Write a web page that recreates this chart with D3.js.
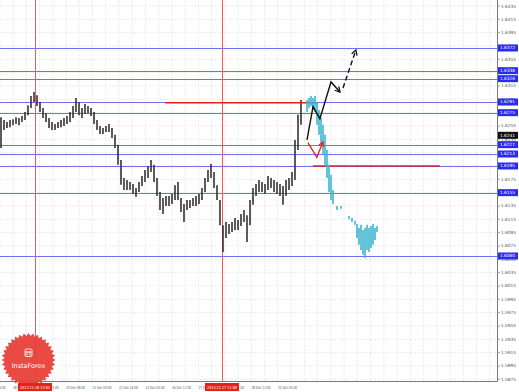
<!DOCTYPE html>
<html><head><meta charset="utf-8">
<script src="https://cdn.jsdelivr.net/npm/d3@7"></script>
<style>body{margin:0;background:#fff}svg{display:block}</style>
</head><body><svg id="c" width="519" height="392"></svg>
<script>
// ---- data ----
const barHigh = [1.6268,1.6264,1.6261,1.6264,1.6265,1.6268,1.6267,1.6270,1.6276,1.6286,
1.6300,1.6306,1.6301,1.6291,1.6282,1.6274,1.6267,1.6261,1.6258,1.6261,
1.6264,1.6267,1.6270,1.6276,1.6285,1.6297,1.6291,1.6282,1.6288,1.6285,
1.6282,1.6276,1.6264,1.6255,1.6252,1.6255,1.6258,1.6252,1.6242,1.6227,
1.6204,1.6177,1.6174,1.6171,1.6168,1.6162,1.6171,1.6180,1.6189,1.6195,
1.6204,1.6197,1.6177,1.6156,1.6147,1.6150,1.6150,1.6153,1.6166,1.6171,
1.6147,1.6138,1.6144,1.6144,1.6147,1.6150,1.6153,1.6162,1.6177,1.6189,
1.6198,1.6186,1.6166,1.6144,1.6106,1.6111,1.6108,1.6111,1.6117,1.6114,
1.6123,1.6129,1.6121,1.6144,1.6162,1.6168,1.6174,1.6171,1.6168,1.6180,
1.6177,1.6174,1.6171,1.6168,1.6165,1.6174,1.6177,1.6186,1.6234,1.6272,1.6294];
const barLow = [1.6222,1.6249,1.6252,1.6253,1.6256,1.6258,1.6256,1.6261,1.6264,1.6271,
1.6282,1.6291,1.6285,1.6276,1.6267,1.6261,1.6252,1.6249,1.6249,1.6252,
1.6253,1.6255,1.6258,1.6261,1.6267,1.6276,1.6271,1.6267,1.6273,1.6274,
1.6270,1.6258,1.6249,1.6243,1.6243,1.6246,1.6246,1.6237,1.6222,1.6197,
1.6167,1.6159,1.6159,1.6159,1.6153,1.6149,1.6156,1.6165,1.6171,1.6177,
1.6186,1.6171,1.6150,1.6129,1.6123,1.6135,1.6135,1.6138,1.6144,1.6144,
1.6126,1.6111,1.6129,1.6132,1.6135,1.6135,1.6138,1.6144,1.6156,1.6171,
1.6177,1.6162,1.6144,1.6106,1.6066,1.6087,1.6093,1.6096,1.6099,1.6099,
1.6105,1.6111,1.6081,1.6106,1.6137,1.6150,1.6156,1.6156,1.6153,1.6159,
1.6162,1.6156,1.6153,1.6150,1.6137,1.6150,1.6159,1.6165,1.6174,1.6219,1.6257];

const fcBar  = [102,102.67,103.33,104,104.67,105.33,106,106.67,107.33,108,108.67,109.33,110,110.67,112,113.33,116,117,118,118.67,119.33,120,120.67,121.33,122,122.67,123.33,124,124.67,125.33];
const fcHigh = [1.6294,1.6297,1.6300,1.6297,1.6300,1.6291,1.6279,1.6267,1.6257,1.6242,1.6219,1.6197,1.6182,1.6159,1.6135,1.6135,1.6120,1.6117,1.6113,1.6108,1.6102,1.6107,1.6099,1.6102,1.6107,1.6102,1.6105,1.6108,1.6102,1.6105];
const fcLow  = [1.6276,1.6282,1.6285,1.6279,1.6276,1.6257,1.6242,1.6227,1.6212,1.6197,1.6177,1.6156,1.6144,1.6138,1.6129,1.6131,1.6115,1.6111,1.6107,1.6087,1.6077,1.6069,1.6062,1.6057,1.6069,1.6066,1.6072,1.6077,1.6084,1.6096];

const levels = [1.6372,1.6338,1.6326,1.6291,1.6275,1.6227,1.6213,1.6195,1.6155,1.6060];
const currentPrice = 1.6241;
const redLevels = [1.6290, 1.6195];
const redFrom = [54.7, 104];
const redTo = [105.7, 146.3];
const vLineBars = [11.33, 73.67];
const vLineLabels = ["2013.12.18 13:00", "2013.12.27 11:00"];
const xTickBars = [-4.83,4,12.83,21.67,30.5,39.33,48.17,57,65.83,74.67,83.5,92.33];
const xTickLabels = ["18 Dec 04:00","18 Dec 20:00","19 Dec 14:00","20 Dec 08:00","21 Dec 00:00","21 Dec 16:00","24 Dec 00:00","26 Dec 12:00","27 Dec 05:00","27 Dec 21:00","28 Dec 13:00","31 Dec 05:00"];
const yTicks = [1.6435,1.6415,1.6395,1.6375,1.6355,1.6335,1.6315,1.6295,1.6275,1.6255,1.6235,1.6215,1.6195,1.6175,1.6155,1.6135,1.6115,1.6095,1.6075,1.6055,1.6035,1.6015,1.5995,1.5975,1.5955,1.5935,1.5915,1.5895,1.5875];
const blackPathBars = [102,104,106.3,110,113];
const blackPathPrices = [1.6234,1.6284,1.6266,1.6321,1.6306];
const blackDashBars = [114,118.3];
const blackDashPrices = [1.6312,1.6369];
const redPathBars = [102.3,105.3,107.3];
const redPathPrices = [1.6230,1.6208,1.6231];

// ---- layout ----
const W = 519, H = 392, plotR = 497, plotB = 381;
const x = d3.scaleLinear().domain([0,100]).range([1,301]);
const y = d3.scaleLinear().domain([1.6435,1.5875]).range([6,379.33]);
const svg = d3.select("#c");
const font = "'DejaVu Sans', sans-serif";

const defs = svg.append("defs");
defs.append("clipPath").attr("id","plot").append("rect").attr("x",0).attr("y",0).attr("width",plotR).attr("height",plotB);
defs.append("clipPath").attr("id","xlab").append("rect").attr("x",0).attr("y",382).attr("width",plotR).attr("height",10);
function marker(id, color){
  defs.append("marker").attr("id",id).attr("viewBox","0 0 10 10").attr("refX",8).attr("refY",5)
    .attr("markerWidth",5).attr("markerHeight",5).attr("orient","auto")
    .append("path").attr("d","M1,1 L8,5 L1,9").attr("fill","none").attr("stroke",color).attr("stroke-width",1.8);
}
marker("arrB","#111"); marker("arrR","#e0201c");

svg.append("rect").attr("width",W).attr("height",H).attr("fill","#fff");
const g = svg.append("g").attr("clip-path","url(#plot)");

// grid
g.selectAll("line.hg").data(yTicks).join("line")
  .attr("x1",0).attr("x2",plotR).attr("y1",d=>y(d)).attr("y2",d=>y(d))
  .attr("stroke","#d2d2d2").attr("stroke-width",0.7).attr("stroke-dasharray","1,1.5");
const step = (xTickBars[1]-xTickBars[0])/2;
const vGrid = d3.range(xTickBars[0], x.invert(plotR), step);
g.selectAll("line.vg").data(vGrid).join("line")
  .attr("x1",d=>x(d)).attr("x2",d=>x(d)).attr("y1",0).attr("y2",plotB)
  .attr("stroke","#d2d2d2").attr("stroke-width",0.7).attr("stroke-dasharray","1,1.5");

// blue levels
g.selectAll("line.lv").data(levels).join("line")
  .attr("x1",0).attr("x2",plotR).attr("y1",d=>Math.round(y(d))+0.5).attr("y2",d=>Math.round(y(d))+0.5)
  .attr("stroke","#6f6ff5").attr("stroke-width",1.1);

// vertical red lines
g.selectAll("line.vl").data(vLineBars).join("line")
  .attr("x1",d=>Math.round(x(d))+0.5).attr("x2",d=>Math.round(x(d))+0.5).attr("y1",0).attr("y2",plotB)
  .attr("stroke","#ec5a5a").attr("stroke-width",1);

// candles
const idx = d3.range(barHigh.length);
g.selectAll("line.bar").data(idx).join("line")
  .attr("x1",i=>x(i)).attr("x2",i=>x(i))
  .attr("y1",i=>y(barHigh[i])).attr("y2",i=>y(barLow[i]))
  .attr("stroke","#333").attr("stroke-width",1.6);

// red level segments
g.selectAll("line.rs").data(redLevels).join("line")
  .attr("x1",(d,i)=>x(redFrom[i])).attr("x2",(d,i)=>x(redTo[i]))
  .attr("y1",d=>y(d)).attr("y2",d=>y(d))
  .attr("stroke","#e0201c").attr("stroke-width",1.5);

// forecast bars
g.selectAll("line.fc").data(fcBar).join("line")
  .attr("x1",d=>x(d)).attr("x2",d=>x(d))
  .attr("y1",(d,i)=>y(fcHigh[i])).attr("y2",(d,i)=>y(fcLow[i]))
  .attr("stroke","#3db5cf").attr("stroke-width",1.6);

// arrows
const ln = d3.line().x(d=>x(d[0])).y(d=>y(d[1]));
g.append("path").attr("d",ln(d3.zip(blackPathBars,blackPathPrices)))
  .attr("fill","none").attr("stroke","#111").attr("stroke-width",1.4).attr("marker-end","url(#arrB)");
g.append("path").attr("d",ln(d3.zip(blackDashBars,blackDashPrices)))
  .attr("fill","none").attr("stroke","#111").attr("stroke-width",1.4).attr("stroke-dasharray","5,3").attr("marker-end","url(#arrB)");
g.append("path").attr("d",ln(d3.zip(redPathBars,redPathPrices)))
  .attr("fill","none").attr("stroke","#e0201c").attr("stroke-width",1.3).attr("marker-end","url(#arrR)");

// axes frame
svg.append("line").attr("x1",plotR+0.5).attr("x2",plotR+0.5).attr("y1",0).attr("y2",plotB+0.5).attr("stroke","#7a7a7a");
svg.append("line").attr("x1",0).attr("x2",plotR+0.5).attr("y1",plotB+0.5).attr("y2",plotB+0.5).attr("stroke","#7a7a7a");

// logo
const cx = 28.5, cy = 360, rO = 27, rI = 24, nP = 36;
const star = d3.range(nP*2).map(k=>{const a = k*Math.PI/nP; const r = k%2?rI:rO; return [cx+r*Math.sin(a), cy-r*Math.cos(a)];});
svg.append("path").attr("d","M"+star.join("L")+"Z").attr("fill","#e8403a").attr("opacity",0.95);
const ic = svg.append("g").attr("stroke","#fff").attr("fill","none").attr("stroke-width",0.9);
ic.append("rect").attr("x",cx-3.5).attr("y",cy-11).attr("width",7).attr("height",7.5).attr("rx",1.5);
ic.append("line").attr("x1",cx-1.5).attr("x2",cx-1.5).attr("y1",cy-9).attr("y2",cy-4.5);
ic.append("line").attr("x1",cx+1.5).attr("x2",cx+1.5).attr("y1",cy-9).attr("y2",cy-4.5);
ic.append("line").attr("x1",cx-2.5).attr("x2",cx+2.5).attr("y1",cy-8).attr("y2",cy-8);
svg.append("text").attr("x",cx).attr("y",cy+8).attr("text-anchor","middle")
  .attr("font-family",font).attr("font-size",6.5).attr("fill","#fff").text("InstaForex");

// right axis ticks & labels
svg.selectAll("line.yt").data(yTicks).join("line")
  .attr("x1",plotR).attr("x2",plotR+3).attr("y1",d=>y(d)).attr("y2",d=>y(d)).attr("stroke","#7a7a7a").attr("stroke-width",0.7);
svg.selectAll("text.yl").data(yTicks).join("text")
  .attr("x",plotR+4).attr("y",d=>y(d)+1.5)
  .attr("font-family",font).attr("font-size",4.3).attr("fill","#555").text(d=>d.toFixed(4));

// level boxes
const boxes = levels.map(v=>({v, c:"#2a2af0"})).concat([{v:currentPrice, c:"#111"}]);
const bg = svg.selectAll("g.box").data(boxes).join("g");
bg.append("rect").attr("x",plotR+1).attr("y",d=>y(d.v)-3.5).attr("width",20).attr("height",7).attr("fill",d=>d.c);
bg.append("text").attr("x",plotR+3).attr("y",d=>y(d.v)+1.5)
  .attr("font-family",font).attr("font-size",4.3).attr("fill","#fff").text(d=>d.v.toFixed(4));

// x axis labels
svg.append("g").attr("clip-path","url(#xlab)").selectAll("text.xl").data(xTickBars).join("text")
  .attr("x",d=>x(d)).attr("y",389)
  .attr("font-family",font).attr("font-size",4.2).attr("fill","#555")
  .attr("textLength",19).attr("lengthAdjust","spacingAndGlyphs")
  .text((d,i)=>xTickLabels[i]);
const vb = svg.selectAll("g.vb").data(vLineBars).join("g");
vb.append("rect").attr("x",d=>x(d)-17).attr("y",383).attr("width",34).attr("height",8).attr("fill","#e8201a");
vb.append("text").attr("x",d=>x(d)).attr("y",389).attr("text-anchor","middle")
  .attr("font-family",font).attr("font-size",4.2).attr("fill","#fff")
  .attr("textLength",30).attr("lengthAdjust","spacingAndGlyphs")
  .text((d,i)=>vLineLabels[i]);
</script></body></html>
